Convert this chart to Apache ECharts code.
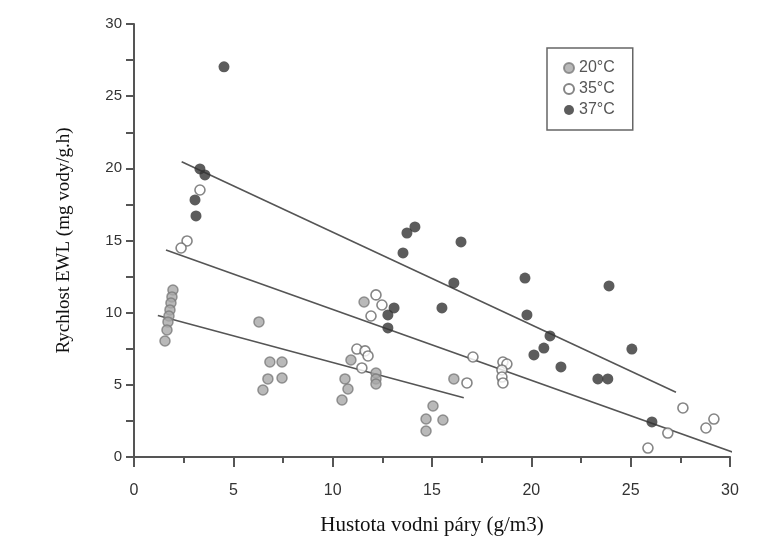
<!DOCTYPE html>
<html>
<head>
<meta charset="utf-8">
<script src="https://cdn.jsdelivr.net/npm/echarts@6/dist/echarts.min.js"></script>
<style>html,body{margin:0;padding:0;background:#fff;}#c{width:763px;height:549px;}</style>
</head>
<body>
<div id="c"></div>
<script>
// Data
const s20 = [
  [1.96,11.57],[1.91,11.09],[1.86,10.67],[1.81,10.19],[1.76,9.77],[1.71,9.36],[1.66,8.80],[1.56,8.04],
  [6.29,9.36],[6.84,6.58],[7.45,6.58],[7.45,5.47],[6.74,5.41],[6.49,4.64],
  [11.58,10.74],[10.92,6.72],[12.18,5.82],[12.18,5.41],[12.18,5.06],[10.62,5.41],[10.77,4.71],[10.47,3.95],
  [16.10,5.41],[15.05,3.53],[14.70,2.63],[15.55,2.56],[14.70,1.80]
];
const s35 = [
  [3.32,18.50],[2.67,14.97],[2.37,14.48],
  [12.18,11.23],[12.48,10.53],[11.93,9.77],[11.22,7.48],[11.63,7.35],[11.78,7.00],[11.47,6.17],
  [17.06,6.93],[16.76,5.13],[18.57,6.58],[18.77,6.44],[18.52,6.03],[18.52,5.54],[18.57,5.13],
  [27.63,3.40],[26.87,1.66],[25.87,0.62],[28.79,2.01],[29.19,2.63]
];
const s37 = [
  [4.53,27.03],[3.32,19.96],[3.57,19.54],[3.07,17.81],[3.12,16.70],
  [14.14,15.94],[13.74,15.52],[13.54,14.14],[16.46,14.90],[16.10,12.06],[15.50,10.33],
  [13.09,10.33],[12.78,9.84],[12.78,8.94],
  [19.68,12.40],[19.78,9.84],[20.94,8.39],[20.63,7.55],[20.13,7.07],[21.49,6.24],
  [23.91,11.85],[25.06,7.48],[23.35,5.41],[23.85,5.41],[26.07,2.43]
];
const fit20 = [[1.2,9.8],[16.6,4.1]];
const fit35 = [[1.61,14.35],[30.15,0.33]];
const fit37 = [[2.40,20.46],[27.28,4.49]];
const seriesNames = ['20°C','35°C','37°C'];
const xTicks = [0,5,10,15,20,25,30];
const yTicks = [0,5,10,15,20,25,30];

const chart = echarts.init(document.getElementById('c'), null, {renderer:'canvas'});
const fitLine = (d) => ({
  type:'line', data:d, symbol:'none', silent:true, z:1,
  lineStyle:{color:'#555', width:1.6}, legendHoverLink:false
});
chart.setOption({
  animation:false,
  backgroundColor:'#fff',
  grid:{left:134, right:33, top:24, bottom:92},
  legend:{
    data:seriesNames, orient:'vertical', left:547, top:48,
    padding:[12,18,12,16], itemGap:5, itemWidth:10, itemHeight:10,
    borderColor:'#666', borderWidth:1.5, icon:'circle',
    textStyle:{fontFamily:'Liberation Sans', fontSize:16, color:'#555'}
  },
  xAxis:{
    type:'value', min:xTicks[0], max:xTicks[xTicks.length-1], interval:5,
    name:'Hustota vodni páry (g/m3)', nameLocation:'middle', nameGap:58,
    nameTextStyle:{fontFamily:'Liberation Serif', fontSize:21, color:'#111'},
    axisLine:{show:true, onZero:false, lineStyle:{color:'#555', width:2}},
    axisTick:{show:true, inside:false, length:10, lineStyle:{color:'#555', width:2}},
    minorTick:{show:true, splitNumber:2, length:6, lineStyle:{color:'#555', width:2}},
    axisLabel:{margin:26, fontFamily:'Liberation Sans', fontSize:16, color:'#333'},
    splitLine:{show:false}
  },
  yAxis:{
    type:'value', min:yTicks[0], max:yTicks[yTicks.length-1], interval:5,
    name:'Rychlost EWL (mg vody/g.h)', nameLocation:'middle', nameGap:60,
    nameTextStyle:{fontFamily:'Liberation Serif', fontSize:19, color:'#111'},
    axisLine:{show:true, onZero:false, lineStyle:{color:'#555', width:2}},
    axisTick:{show:true, inside:false, length:8, lineStyle:{color:'#555', width:2}},
    minorTick:{show:true, splitNumber:2, length:8, lineStyle:{color:'#555', width:2}},
    axisLabel:{margin:12, fontFamily:'Liberation Sans', fontSize:15, color:'#333'},
    splitLine:{show:false}
  },
  series:[
    fitLine(fit20), fitLine(fit35), fitLine(fit37),
    {name:seriesNames[0], type:'scatter', data:s20, symbolSize:10, z:3,
     itemStyle:{color:'#a8a8a8', borderColor:'#7a7a7a', borderWidth:1.5}},
    {name:seriesNames[1], type:'scatter', data:s35, symbolSize:10, z:3,
     itemStyle:{color:'#ffffff', borderColor:'#666', borderWidth:1.6}},
    {name:seriesNames[2], type:'scatter', data:s37, symbolSize:11, z:3,
     itemStyle:{color:'#333333', borderColor:'#333', borderWidth:0}}
  ]
});
</script>
</body>
</html>
